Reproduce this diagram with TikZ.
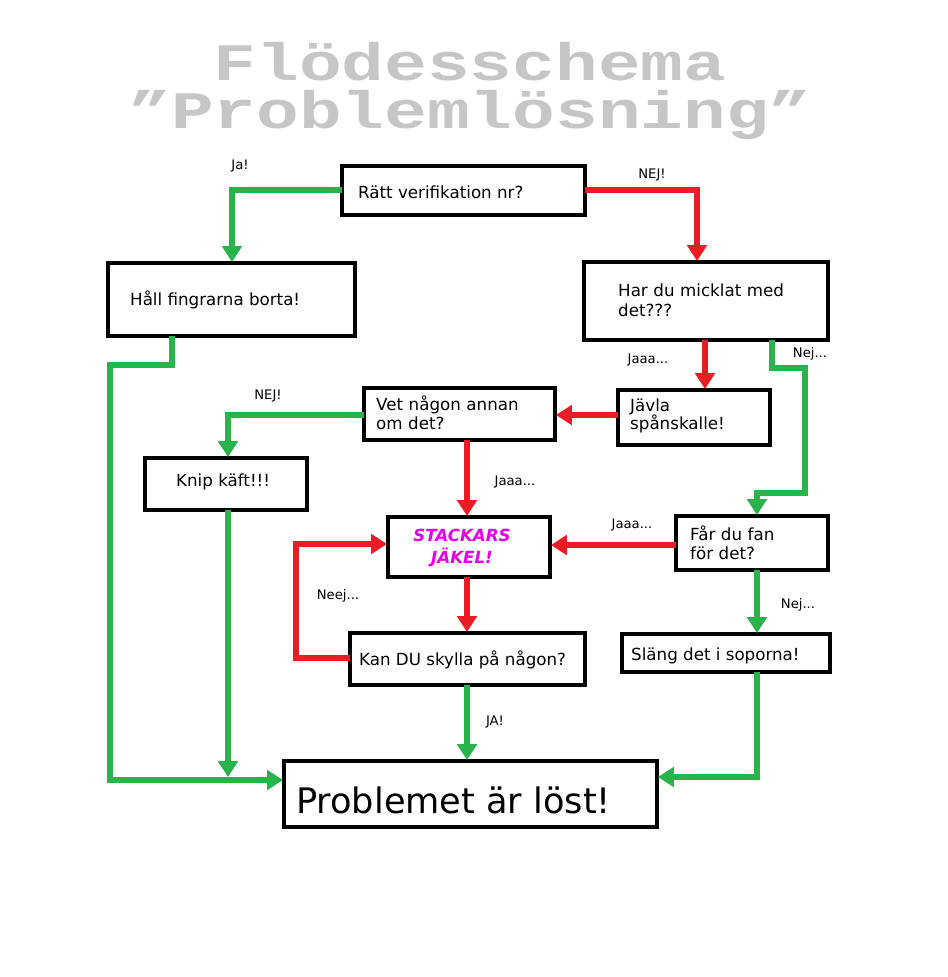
\documentclass[tikz,border=0pt]{standalone}
\usepackage{fontspec}
\setmainfont{DejaVu Sans}
\newfontfamily\titlefont{Liberation Mono}
\usetikzlibrary{arrows.meta}
\definecolor{gr}{RGB}{40,180,75}
\definecolor{rd}{RGB}{237,28,36}
\definecolor{mag}{RGB}{230,0,230}
\begin{document}
\begin{tikzpicture}[x=0.02cm,y=-0.02cm,
  box/.style={draw=black,line width=2pt,inner sep=0pt},
  txt/.style={font=\fontsize{9.5}{11.5}\selectfont,align=left,anchor=west},
  lab/.style={font=\fontsize{7.5}{9}\selectfont},
  ttl/.style={font=\titlefont\bfseries\fontsize{30}{32}\selectfont,text=gray!45,inner sep=0pt},
  g/.style={draw=gr,line width=3.4pt,-{Triangle[length=9pt,width=11pt]}},
  gn/.style={draw=gr,line width=3.4pt},
  r/.style={draw=rd,line width=3.4pt,-{Triangle[length=9pt,width=11pt]}}]
\useasboundingbox (0,0) rectangle (947,977);
\node[ttl] (t1) at (470,62) {\scalebox{1.35}[1]{Flödesschema}};
\node[ttl] (t2) at (470,115) {\scalebox{1.35}[1]{”Problemlösning”}};
% boxes
\draw[box] (342,166) rectangle (585,215); \node[txt] (a) at (352,192) {Rätt verifikation nr?};
\draw[box] (108,263) rectangle (355,336); \node[txt] (b) at (124,300) {Håll fingrarna borta!};
\draw[box] (584,262) rectangle (828,340); \node[txt,text width=4cm] (c) at (612,300) {Har du micklat med\\ det???};
\draw[box] (618,390) rectangle (770,445); \node[txt,text width=3cm,font=\fontsize{9.5}{10.5}\selectfont] (d) at (624,416) {Jävla\\ spånskalle!};
\draw[box] (364,388) rectangle (555,440); \node[txt,text width=3.6cm,font=\fontsize{9.5}{10.5}\selectfont] (e) at (370,413) {Vet någon annan\\ om det?};
\draw[box] (145,458) rectangle (307,510); \node[txt] (f) at (170,482) {Knip käft!!!};
\draw[box] (388,517) rectangle (550,577); \node[font=\fontsize{9.5}{12}\selectfont\bfseries\itshape,text=mag,align=center] (s) at (462,548) {STACKARS\\JÄKEL!};
\draw[box] (676,516) rectangle (828,570); \node[txt,text width=3cm,font=\fontsize{9.5}{10.5}\selectfont] (h) at (684,543) {Får du fan\\ för det?};
\draw[box] (350,633) rectangle (585,685); \node[txt] (k) at (353,660) {Kan DU skylla på någon?};
\draw[box] (622,634) rectangle (830,672); \node[txt] (l) at (625,656) {Släng det i soporna!};
\draw[box] (284,761) rectangle (657,827); \node[font=\fontsize{20}{24}\selectfont,anchor=west] (p) at (290,800) {Problemet är löst!};
% connectors
\draw[g] (342,190) -- (232,190) -- (232,262);
\draw[r] (585,190) -- (697,190) -- (697,261);
\draw[r] (705,340) -- (705,389);
\draw[g] (772,340) -- (772,368) -- (805,368) -- (805,493) -- (757,493) -- (757,515);
\draw[r] (618,415) -- (556,415);
\draw[g] (364,415) -- (228,415) -- (228,457);
\draw[r] (467,440) -- (467,516);
\draw[r] (676,545) -- (551,545);
\draw[r] (467,577) -- (467,632);
\draw[r] (350,658) -- (296,658) -- (296,544) -- (387,544);
\draw[g] (757,570) -- (757,633);
\draw[g] (467,685) -- (467,760);
\draw[g] (172,336) -- (172,365) -- (110,365) -- (110,780) -- (283,780);
\draw[g] (228,510) -- (228,777);
\draw[g] (757,672) -- (757,777) -- (658,777);
% labels
\node[lab] (l1) at (240,166) {Ja!};
\node[lab] (l2) at (652,175) {NEJ!};
\node[lab] (l3) at (648,360) {Jaaa...};
\node[lab] (l4) at (810,354) {Nej...};
\node[lab] (l5) at (268,396) {NEJ!};
\node[lab] (l6) at (515,482) {Jaaa...};
\node[lab] (l7) at (632,525) {Jaaa...};
\node[lab] (l8) at (338,596) {Neej...};
\node[lab] (l9) at (798,605) {Nej...};
\node[lab] (l10) at (495,722) {JA!};
\end{tikzpicture}
\end{document}
